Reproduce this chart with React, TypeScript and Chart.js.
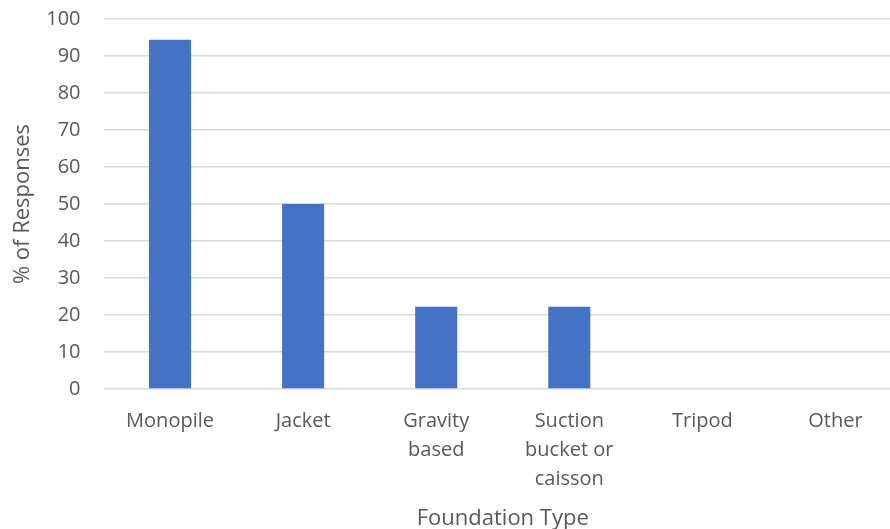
import React, { useEffect, useRef } from "react";
import { Chart, registerables } from "chart.js";

Chart.register(...registerables);

const categories: (string | string[])[] = [
  "Monopile",
  "Jacket",
  ["Gravity", "based"],
  ["Suction", "bucket or", "caisson"],
  "Tripod",
  "Other",
];
const responses = [94.4, 50, 22.2, 22.2, 0, 0];
const yTicks = [0, 10, 20, 30, 40, 50, 60, 70, 80, 90, 100];

const FONT = "'Open Sans', sans-serif";
const TEXT = "#595959";

export default function App() {
  const ref = useRef<HTMLCanvasElement | null>(null);
  useEffect(() => {
    if (!ref.current) return;
    const chart = new Chart(ref.current, {
      type: "bar",
      data: {
        labels: categories,
        datasets: [
          {
            label: "% of Responses",
            data: responses,
            backgroundColor: "#4472C4",
            categoryPercentage: 1,
            barPercentage: 0.316,
          },
        ],
      },
      options: {
        responsive: false,
        animation: false,
        layout: { padding: { top: 19, right: 2, bottom: 0, left: 10 } },
        plugins: { legend: { display: false }, tooltip: { enabled: false } },
        scales: {
          x: {
            grid: { display: false, drawTicks: false },
            border: { display: false },
            ticks: {
              color: TEXT,
              font: { family: FONT, size: 20, lineHeight: "29px" },
              padding: 18,
              maxRotation: 0,
              autoSkip: false,
            },
            title: {
              display: true,
              text: "Foundation Type",
              color: TEXT,
              font: { family: FONT, size: 22 },
              padding: { top: 4, bottom: 0 },
            },
            afterFit: (s: any) => {
              s.height = 532 - 389;
              s.paddingLeft = 0;
              s.paddingRight = 0;
            },
          },
          y: {
            min: 0,
            max: 100,
            afterBuildTicks: (s: any) => {
              s.ticks = yTicks.map((v) => ({ value: v }));
            },
            grid: { color: "#d9d9d9", lineWidth: 1.5, drawTicks: false },
            border: { display: false },
            ticks: {
              color: TEXT,
              font: { family: FONT, size: 20 },
              padding: 23,
            },
            title: {
              display: true,
              text: "% of Responses",
              color: TEXT,
              font: { family: FONT, size: 22 },
              padding: { top: 0, bottom: 0 },
            },
            afterFit: (s: any) => {
              s.width = 103.5 - 10;
              s.paddingTop = 0;
              s.paddingBottom = 0;
            },
          },
        },
      },
    });
    return () => chart.destroy();
  }, []);
  return (
    <div
      style={{
        position: "fixed",
        left: 0,
        top: 0,
        width: 890,
        height: 529,
        overflow: "hidden",
        background: "#fff",
      }}
    >
      <canvas ref={ref} width={904} height={532} style={{ display: "block" }} />
    </div>
  );
}
